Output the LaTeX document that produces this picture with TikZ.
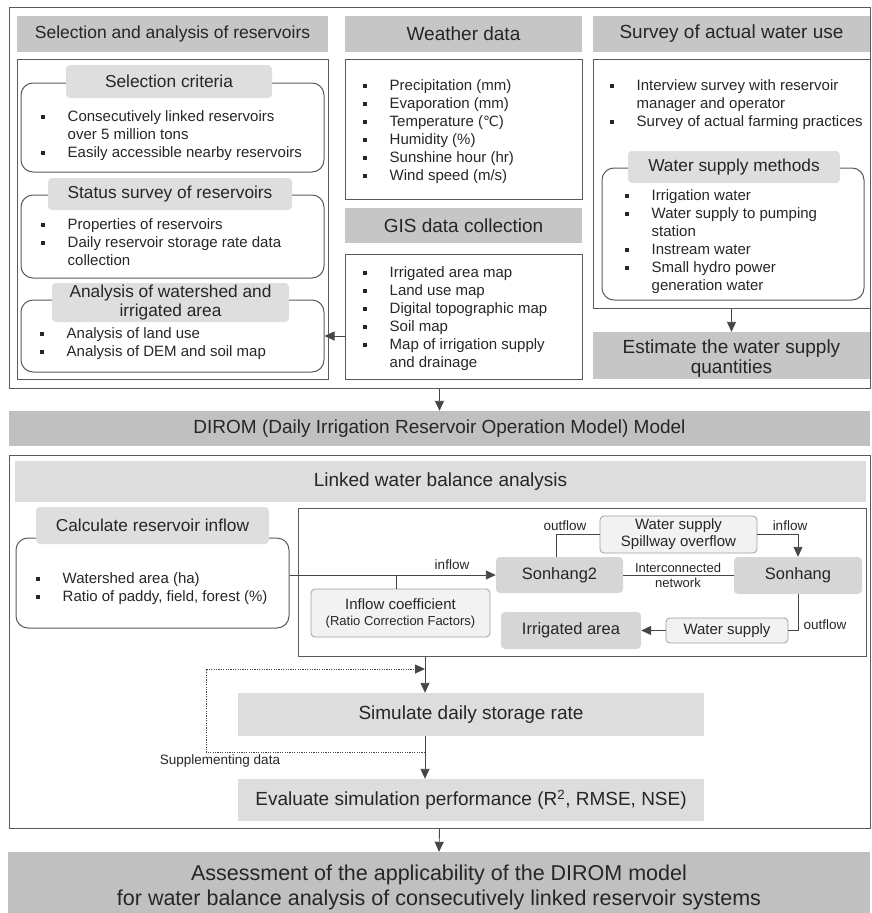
\documentclass[tikz,border=0pt]{standalone}
\usepackage{fontspec}
\setmainfont{Liberation Sans}
\newfontfamily\dejavu{DejaVu Sans}
\usetikzlibrary{arrows.meta}
\definecolor{hdrgray}{RGB}{198,198,198}
\definecolor{dirgray}{RGB}{192,192,192}
\definecolor{tabgray}{RGB}{222,222,222}
\definecolor{lightgray2}{RGB}{221,221,221}
\definecolor{nodegray}{RGB}{214,214,214}
\definecolor{palegray}{RGB}{242,242,242}
\definecolor{framegray}{RGB}{90,90,90}
\definecolor{linegray}{RGB}{70,70,70}
\definecolor{txt}{RGB}{38,38,38}
\newcommand{\fs}[2]{\fontsize{#1}{#2}\selectfont}
\newcommand{\bu}{\makebox[26.5pt][l]{\rule[2pt]{4pt}{4pt}}}
\newcommand{\ind}{\hspace*{26.5pt}}
\newcommand{\rectnode}[6]{\node[#2, minimum width={(#5)-(#3)}, minimum height={(#6)-(#4)}] (#1) at ({((#3)+(#5))/2},{((#4)+(#6))/2})}
\tikzset{
  hdr/.style={fill=hdrgray, inner sep=1pt, text=txt, align=center, font=\fs{19}{20}},
  hdrtxt/.style={inner sep=0pt, text=txt, align=center, font=\fs{19}{20}},
  frm/.style={draw=framegray, line width=1pt},
  rbox/.style={draw=framegray, line width=1pt, rounded corners=12pt},
  tabbox/.style={fill=tabgray, rounded corners=4pt, inner sep=1pt, align=center, text=txt, font=\fs{17.3}{19}},
  lst/.style={align=left, inner sep=0pt, text=txt, font=\fs{15}{18}, anchor=north west},
  gnode/.style={fill=nodegray, rounded corners=4pt, inner sep=1pt, text=txt, font=\fs{16.5}{18}},
  pnode/.style={fill=palegray, draw=gray!75, line width=0.8pt, rounded corners=4pt, inner sep=1pt, align=center, text=txt, font=\fs{15}{17}},
  lbl/.style={font=\fs{13.5}{15}, text=txt, inner sep=0pt, align=center},
  conn/.style={draw=linegray, line width=0.9pt},
  arr/.style={-{Triangle[length=10pt,width=9pt]}},
  dotline/.style={draw=linegray, line width=0.8pt, dash pattern=on 1.2pt off 1.2pt}
}
\begin{document}
\begin{tikzpicture}[x=1pt,y=-1pt]
\useasboundingbox (0,0) rectangle (871,913);
% ---------- top frame ----------
\rectnode{frame1}{frm}{9}{7}{870}{388} {};
\rectnode{hsel}{hdr,font=\fs{17.5}{20}}{17}{16}{328}{52} {Selection and analysis of reservoirs};
\rectnode{hwea}{hdr}{345}{16}{582}{52} {Weather data};
\rectnode{hsur}{hdr}{593}{16}{870}{52} {Survey of actual water use};
\rectnode{csel}{frm}{17}{59}{328}{379} {};
\rectnode{cwea}{frm}{345}{59}{582}{199} {};
\rectnode{hgis}{hdr}{345}{208}{582}{243} {GIS data collection};
\rectnode{cgis}{frm}{345}{254}{582}{379} {};
\rectnode{csur}{frm}{593}{59}{870}{308} {};
\rectnode{hest}{hdr}{593}{332}{870}{379} {};
\node[hdrtxt, yshift=-3pt] (hesttxt) at (hest.center) {Estimate the water supply\\quantities};
% left rounded boxes
\rectnode{rsel}{rbox}{21}{83}{324}{172} {};
\rectnode{tsel}{tabbox}{66}{65}{272}{98} {Selection criteria};
\rectnode{rsta}{rbox}{21}{195}{324}{278} {};
\rectnode{tsta}{tabbox}{48}{178}{292}{210} {Status survey of reservoirs};
\rectnode{rana}{rbox}{21}{300}{324}{372} {};
\rectnode{tana}{tabbox}{52}{283}{289}{322} {Analysis of watershed and\\irrigated area};
\node[lst] (lsel) at (41,110) {\bu Consecutively linked reservoirs\\ \ind over 5 million tons\\ \bu Easily accessible nearby reservoirs};
\node[lst] (lsta) at (41,218) {\bu Properties of reservoirs\\ \bu Daily reservoir storage rate data\\ \ind collection};
\node[lst] (lana) at (40,327) {\bu Analysis of land use\\ \bu Analysis of DEM and soil map};
% weather / gis lists
\node[lst] (lwea) at (363,79) {\bu Precipitation (mm)\\ \bu Evaporation (mm)\\ \bu Temperature ({\dejavu\fs{14}{18}℃})\\ \bu Humidity (\%)\\ \bu Sunshine hour (hr)\\ \bu Wind speed (m/s)};
\node[lst] (lgis) at (363,266) {\bu Irrigated area map\\ \bu Land use map\\ \bu Digital topographic map\\ \bu Soil map\\ \bu Map of irrigation supply\\ \ind and drainage};
% survey
\node[lst] (lsur) at (610,79) {\bu Interview survey with reservoir\\ \ind manager and operator\\ \bu Survey of actual farming practices};
\rectnode{rwsm}{rbox}{602}{168}{864}{300} {};
\rectnode{twsm}{tabbox}{628}{151}{840}{183} {Water supply methods};
\node[lst] (lwsm) at (625,189) {\bu Irrigation water\\ \bu Water supply to pumping\\ \ind station\\ \bu Instream water\\ \bu Small hydro power\\ \ind generation water};
% connectors top
\draw[conn,arr] (cgis.west |- rana.east) -- (rana.east);
\draw[conn,arr] (csur.south) -- (hest.north);
% ---------- DIROM ----------
\rectnode{dirom}{hdr,fill=dirgray}{9}{411}{870}{446} {DIROM (Daily Irrigation Reservoir Operation Model) Model};
\draw[conn,arr] (frame1.south) -- (dirom.north);
% ---------- second frame ----------
\rectnode{frame2}{frm}{9}{455}{870}{828} {};
\rectnode{hlink}{hdr,fill=lightgray2}{15}{461}{866}{502} {Linked water balance analysis};
\rectnode{rcalc}{rbox}{16}{538}{289}{628} {};
\rectnode{tcalc}{tabbox}{36}{507}{269}{544} {Calculate reservoir inflow};
\node[lst] (lcalc) at (36,572) {\bu Watershed area (ha)\\ \bu Ratio of paddy, field, forest (\%)};
\rectnode{nf}{frm}{298}{508}{866}{656} {};
\rectnode{s2}{gnode}{496}{557}{623}{593} {Sonhang2};
\rectnode{s1}{gnode}{734}{557}{862}{594} {Sonhang};
\rectnode{ws}{pnode}{600}{516}{757}{553} {Water supply\\Spillway overflow};
\rectnode{ic}{pnode,font=\fs{15}{16}}{311}{589}{490}{637} {Inflow coefficient\\{\fs{13}{15}(Ratio Correction Factors)}};
\rectnode{ia}{gnode}{501}{612}{641}{649} {Irrigated area};
\rectnode{wsb}{pnode}{666}{618}{788}{643} {Water supply};
\coordinate (icx) at (396,0);
\coordinate (s2x) at (556,0);
\draw[conn,arr] (rcalc.east |- s2.west) -- (s2.west);
\node[lbl] (linf1) at (452,565) {inflow};
\draw[conn] (ic.north -| icx) -- (s2.west -| icx);
\draw[conn] (s2.north -| s2x) |- (ws.west);
\node[lbl] (lout1) at (565,526) {outflow};
\draw[conn,arr] (ws.east) -| (s1.north);
\node[lbl] (linf2) at (790,526) {inflow};
\draw[conn] (s2.east) -- (s2.east -| s1.west);
\node[lbl, font=\fs{13}{15}] (lnet) at (678,575) {Interconnected\\network};
\draw[conn] (s1.south) |- (wsb.east);
\node[lbl] (lout2) at (825,625) {outflow};
\draw[conn,arr] (wsb.west) -- (wsb.west -| ia.east);
% simulation
\rectnode{sim}{hdr,fill=lightgray2}{238}{693}{704}{736} {Simulate daily storage rate};
\rectnode{eval}{hdr,fill=lightgray2}{238}{779}{704}{821} {Evaluate simulation performance (R\textsuperscript{2}, RMSE, NSE)};
\coordinate (sx) at (425,0);
\draw[conn,arr] (nf.south -| sx) -- (sim.north -| sx);
\draw[conn,arr] (sim.south -| sx) -- (eval.north -| sx);
\coordinate (d1) at (425,752);
\coordinate (d2) at (206,669);
\coordinate (d3) at (425,669);
\draw[dotline,arr] (d1) -| (d2) -- (d3);
\node[lbl] (lsup) at (220,761) {Supplementing data};
% final
\rectnode{final}{hdr,fill=dirgray}{8}{852}{870}{913} {};
\node[hdrtxt, font=\fs{21.5}{25}, yshift=-5pt] (finaltxt) at (final.center) {Assessment of the applicability of the DIROM model\\for water balance analysis of consecutively linked reservoir systems};
\draw[conn,arr] (frame2.south) -- (final.north);
\end{tikzpicture}
\end{document}
